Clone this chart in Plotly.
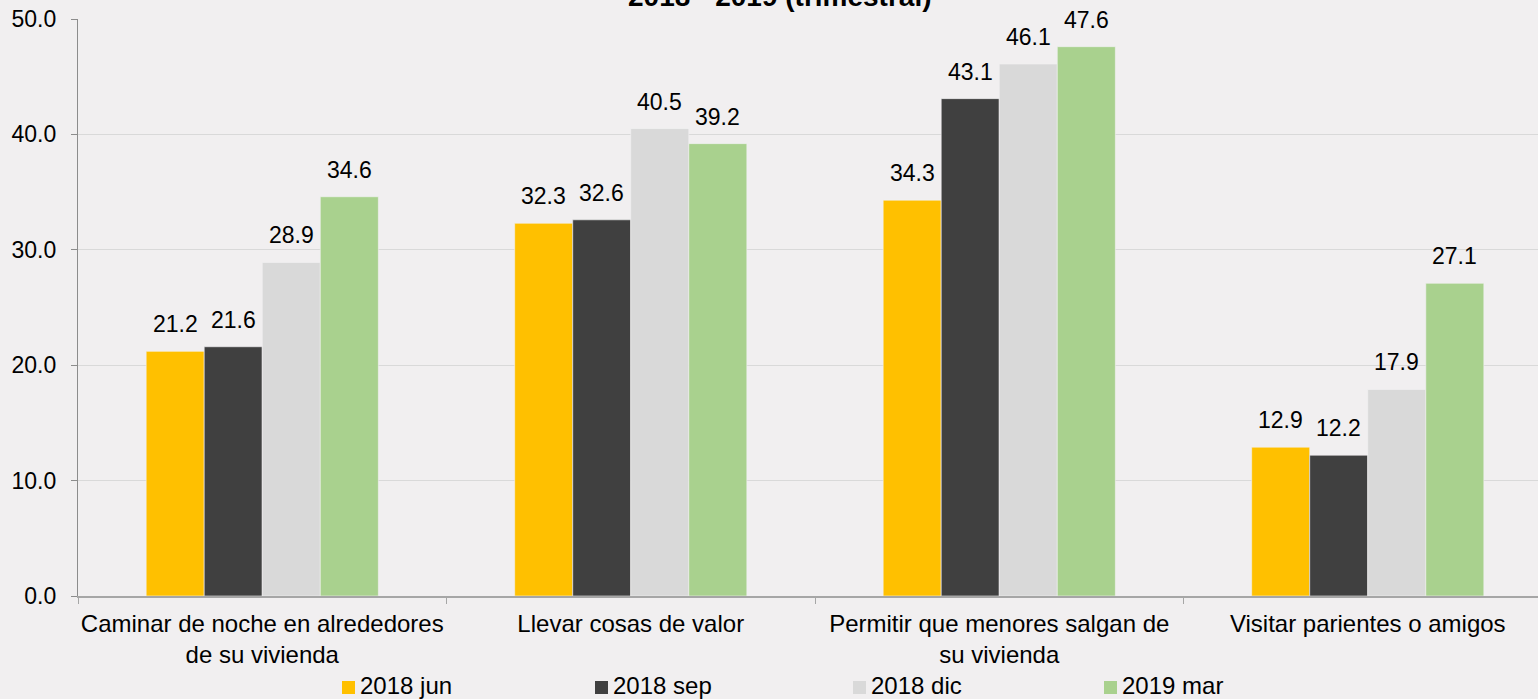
import plotly.graph_objects as go

# --- Data ---
categories = [
    "Caminar de noche en alrededores<br>de su vivienda",
    "Llevar cosas de valor",
    "Permitir que menores salgan de<br>su vivienda",
    "Visitar parientes o amigos",
]
series_names = ["2018 jun", "2018 sep", "2018 dic", "2019 mar"]
jun_2018 = [21.2, 32.3, 34.3, 12.9]
sep_2018 = [21.6, 32.6, 43.1, 12.2]
dic_2018 = [28.9, 40.5, 46.1, 17.9]
mar_2019 = [34.6, 39.2, 47.6, 27.1]
y_ticks = [0, 10, 20, 30, 40, 50]

series_values = [jun_2018, sep_2018, dic_2018, mar_2019]
colors = ["#FFC000", "#404040", "#D9D9D9", "#A9D18E"]

FONT = "Liberation Sans, Arial, sans-serif"
BG = "#F1EFF0"
BARGAP = 0.37
CAT_PX = 368.5  # width of one category slot in pixels

# plot area in page pixels
PLOT_L, PLOT_R, PLOT_T, PLOT_B = 78, 1538, 19, 596


def px_x(p):
    return (p - PLOT_L) / (PLOT_R - PLOT_L)


def px_y(p):
    return (PLOT_B - p) / (PLOT_B - PLOT_T)


fig = go.Figure()
for name, vals, col in zip(series_names, series_values, colors):
    fig.add_trace(
        go.Bar(
            x=categories,
            y=vals,
            name=name,
            marker=dict(color=col, line=dict(color="#F4F2F3", width=0.6)),
            showlegend=False,
        )
    )

# value labels above bars
bar_px = CAT_PX * (1 - BARGAP) / len(series_names)
for j, vals in enumerate(series_values):
    for cat, v in zip(categories, vals):
        fig.add_annotation(
            x=cat,
            y=v,
            text=f"{v:.1f}",
            showarrow=False,
            xshift=(j - 1.5) * bar_px,
            yanchor="bottom",
            yshift=12,
            font=dict(family=FONT, size=23, color="#000000"),
        )

# legend drawn by hand (squares + labels) to match spacing
legend_left = [342, 595, 853, 1104]
for name, col, lx in zip(series_names, colors, legend_left):
    fig.add_shape(
        type="rect",
        xref="paper",
        yref="paper",
        x0=px_x(lx),
        x1=px_x(lx + 13),
        y0=px_y(694),
        y1=px_y(681),
        fillcolor=col,
        line=dict(width=0),
    )
    fig.add_annotation(
        xref="paper",
        yref="paper",
        x=px_x(lx + 17),
        y=px_y(685),
        xanchor="left",
        yanchor="middle",
        text=name,
        showarrow=False,
        borderpad=0,
        font=dict(family=FONT, size=24, color="#000000"),
    )

# title (second line, partly cut at the top)
fig.add_annotation(
    xref="paper",
    yref="paper",
    x=px_x(780),
    y=px_y(14),
    yanchor="bottom",
    text="<b>2018 - 2019 (trimestral)</b>",
    showarrow=False,
    font=dict(family=FONT, size=28, color="#000000"),
)

fig.update_layout(
    width=1538,
    height=699,
    barmode="group",
    bargap=BARGAP,
    bargroupgap=0,
    paper_bgcolor=BG,
    plot_bgcolor=BG,
    margin=dict(l=78, r=0, t=19, b=103, autoexpand=False),
    font=dict(family=FONT, size=23, color="#000000"),
    showlegend=False,
    xaxis=dict(
        range=[-0.5, -0.5 + 1460 / CAT_PX],
        showgrid=False,
        showline=True,
        linecolor="#A6A6A6",
        linewidth=1.5,
        ticks="outside",
        tickson="boundaries",
        ticklen=6,
        tickcolor="#A6A6A6",
        tickangle=0,
        ticklabelstandoff=5,
        automargin=False,
        tickfont=dict(family=FONT, size=24),
    ),
    yaxis=dict(
        range=[0, 50],
        tickvals=y_ticks,
        tickformat=".1f",
        showgrid=True,
        gridcolor="#D9D9D9",
        gridwidth=1.2,
        zeroline=False,
        showline=True,
        linecolor="#8C8C8C",
        linewidth=1.2,
        ticks="outside",
        ticklen=6,
        tickcolor="#8C8C8C",
        ticklabelstandoff=10,
        ticklabeloverflow="allow",
        automargin=False,
        tickfont=dict(family=FONT, size=23),
    ),
)

fig.write_html(
    "out.html",
    config={"displayModeBar": False},
    post_script="document.body.style.margin='0';"
    f"document.body.style.background='{BG}';",
)
